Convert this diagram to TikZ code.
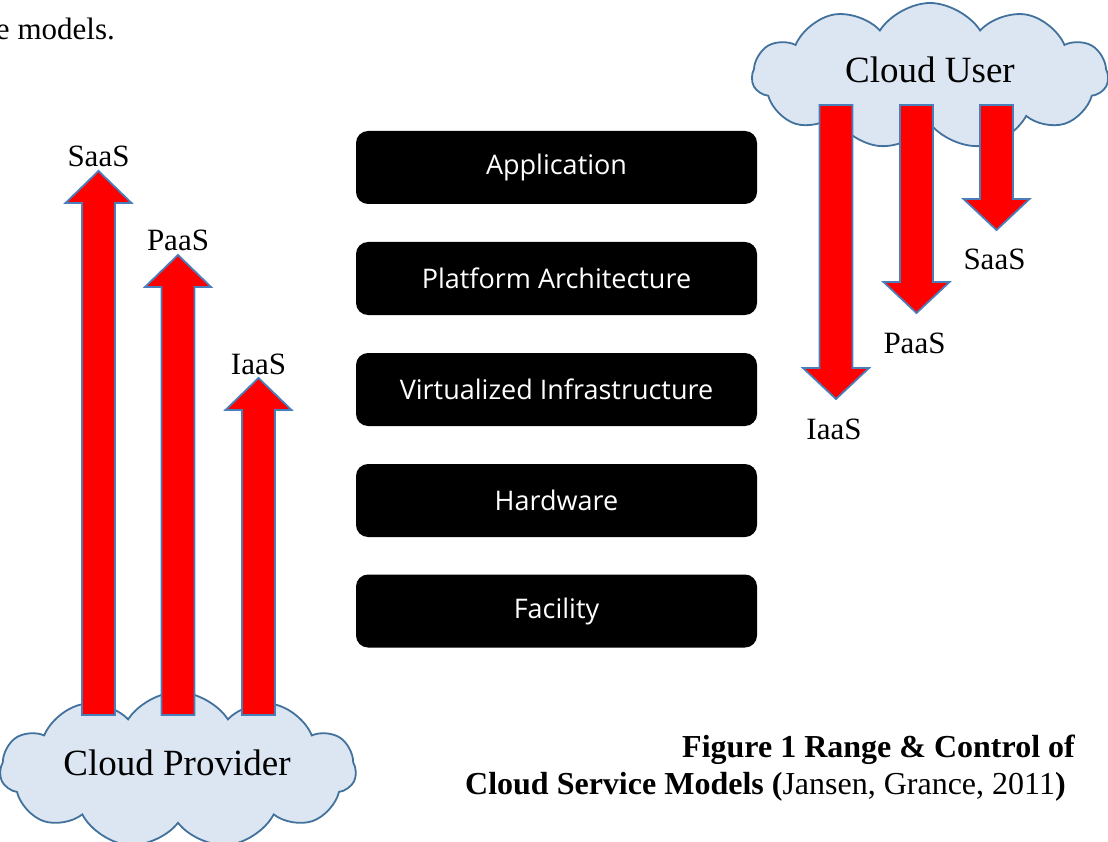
\documentclass[tikz,border=0pt]{standalone}
\usepackage{fontspec}
\setmainfont{Liberation Serif}
\newfontfamily\layerfont{Open Sans}
\usetikzlibrary{shapes.symbols}

\definecolor{cloudfill}{HTML}{DCE6F2}
\definecolor{cloudline}{HTML}{41719C}
\definecolor{arrowline}{HTML}{4A7EBB}

\tikzset{
    layer/.style={fill=black, rounded corners=12pt, minimum width=401pt, minimum height=73pt,
        text=white, font=\layerfont\fontsize{27}{32}\selectfont, inner sep=0pt},
    blockarrow/.style={fill=red, draw=arrowline, line width=1.8pt, line join=miter},
    cloudbox/.style={cloud, cloud puffs=11, cloud puff arc=115, fill=cloudfill, draw=cloudline,
        line width=1.8pt, inner sep=0pt},
    svclabel/.style={font=\fontsize{31}{36}\selectfont, inner sep=0pt},
    cloudlabel/.style={font=\fontsize{37}{42}\selectfont, inner sep=0pt},
}

\begin{document}
\begin{tikzpicture}[x=1pt, y=-1pt]

        \useasboundingbox (0,0) rectangle (1108,842);

        \node (prevtext) [svclabel, anchor=base east] at (115,40) {e models.};

        % layers in the middle
        \node (app)   [layer] at (556.5,167.5) {Application};
        \node (plat)  [layer] at (556.5,278.5) {Platform Architecture};
        \node (virt)  [layer] at (556.5,389.5) {Virtualized Infrastructure};
        \node (hard)  [layer] at (556.5,500.5) {Hardware};
        \node (facil) [layer] at (556.5,611)   {Facility};

        % cloud user with arrows going down
        \node (user) [cloudbox, minimum width=356pt, minimum height=146pt] at (930,76) {};
        \node (usertext) [cloudlabel, anchor=base] at (930,83) {Cloud User};

        \foreach \name/\x/\tip/\lbl in {riaas/836/399/IaaS, rpaas/916.5/313/PaaS, rsaas/996.5/230/SaaS} {
            \draw[blockarrow] (\x-16.5,105) -- (\x-16.5,\tip-31) -- (\x-33,\tip-31) -- (\x,\tip)
                -- (\x+33,\tip-31) -- (\x+16.5,\tip-31) -- (\x+16.5,105) -- cycle;
            \node (\name) [svclabel, anchor=base] at (\x-2,\tip+40) {\lbl};
        }

        % cloud provider with arrows going up
        \node (prov) [cloudbox, minimum width=356pt, minimum height=156pt] at (178,770) {};

        \foreach \name/\x/\tip/\lbl in {lsaas/98.5/171/SaaS, lpaas/178/255/PaaS, liaas/258.5/378/IaaS} {
            \draw[blockarrow] (\x-16.5,715) -- (\x-16.5,\tip+32) -- (\x-33,\tip+32) -- (\x,\tip)
                -- (\x+33,\tip+32) -- (\x+16.5,\tip+32) -- (\x+16.5,715) -- cycle;
            \node (\name) [svclabel, anchor=base] at (\x,\tip-4) {\lbl};
        }

        \node (provtext) [cloudlabel, anchor=base] at (177,775) {Cloud Provider};

        % caption
        \node (cap1) [anchor=base east, inner sep=0pt, font=\fontsize{32}{36}\selectfont\bfseries]
            at (1075,757) {Figure 1 Range \& Control of};
        \node (cap2) [anchor=base west, inner sep=0pt, font=\fontsize{32}{36}\selectfont]
            at (465,794) {\textbf{Cloud Service Models (}Jansen, Grance, 2011\textbf{)}};

    \end{tikzpicture}
\end{document}
